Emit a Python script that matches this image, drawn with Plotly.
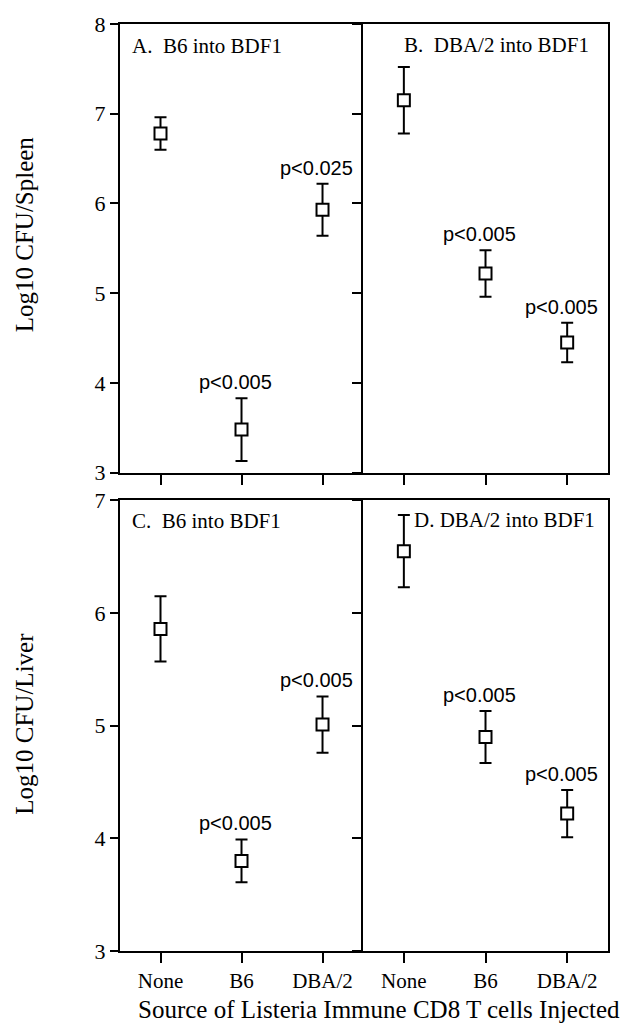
import plotly.graph_objects as go

categories = ["None", "B6", "DBA/2"]

spleen_b6 = [6.78, 3.48, 5.93]
spleen_b6_err = [0.18, 0.35, 0.29]
spleen_b6_p = ["", "p<0.005", "p<0.025"]

spleen_dba = [7.15, 5.22, 4.45]
spleen_dba_err = [0.37, 0.26, 0.22]
spleen_dba_p = ["", "p<0.005", "p<0.005"]

liver_b6 = [5.86, 3.80, 5.01]
liver_b6_err = [0.29, 0.19, 0.25]
liver_b6_p = ["", "p<0.005", "p<0.005"]

liver_dba = [6.55, 4.90, 4.22]
liver_dba_err = [0.32, 0.23, 0.21]
liver_dba_p = ["", "p<0.005", "p<0.005"]

panel_titles = ["A.  B6 into BDF1", "B.  DBA/2 into BDF1", "C.  B6 into BDF1", "D. DBA/2 into BDF1"]
spleen_ticks = [3, 4, 5, 6, 7, 8]
liver_ticks = [3, 4, 5, 6, 7]

SERIF = "Liberation Serif, Times New Roman, serif"
SANS = "Liberation Sans, Arial, sans-serif"

panels = [
    ("x", "y", spleen_b6, spleen_b6_err, spleen_b6_p),
    ("x2", "y2", spleen_dba, spleen_dba_err, spleen_dba_p),
    ("x3", "y3", liver_b6, liver_b6_err, liver_b6_p),
    ("x4", "y4", liver_dba, liver_dba_err, liver_dba_p),
]

fig = go.Figure()
annotations = []
for (xa, ya, vals, errs, plabels), title in zip(panels, panel_titles):
    fig.add_trace(go.Scatter(
        x=categories, y=vals, xaxis=xa, yaxis=ya, mode="markers",
        marker=dict(symbol="square", size=12, color="white",
                    line=dict(color="black", width=2)),
        error_y=dict(type="data", array=errs, visible=True, color="black",
                     thickness=2, width=6),
        showlegend=False, hoverinfo="skip",
    ))
    for c, v, e, p in zip(categories, vals, errs, plabels):
        if p:
            annotations.append(dict(
                x=c, y=v + e, xref=xa, yref=ya, text=p, showarrow=False,
                xanchor="center", yanchor="bottom", xshift=-6, yshift=3,
                font=dict(family=SANS, size=20, color="black"),
            ))

# panel titles
title_pos = {
    "x": (0.04, 0.951), "x2": (0.16, 0.953),
    "x3": (0.04, 0.954), "x4": (0.20, 0.956),
}
for (xa, ya, *_), title in zip(panels, panel_titles):
    px, py = title_pos[xa]
    annotations.append(dict(
        x=px, y=py, xref=f"{xa} domain", yref=f"{ya} domain", text=title,
        showarrow=False, xanchor="left", yanchor="middle",
        font=dict(family=SERIF, size=21, color="black"),
    ))

# shared x title
annotations.append(dict(
    x=0.53, y=-0.063, xref="paper", yref="paper",
    text="Source of Listeria Immune CD8 T cells Injected", showarrow=False,
    xanchor="center", yanchor="middle",
    font=dict(family=SERIF, size=25, color="black"),
))
# y titles
for txt, yy in (("Log10 CFU/Spleen", 0.773), ("Log10 CFU/Liver", 0.245)):
    annotations.append(dict(
        x=-0.195, y=yy, xref="paper", yref="paper", text=txt, showarrow=False,
        textangle=-90, xanchor="center", yanchor="middle",
        font=dict(family=SERIF, size=25, color="black"),
    ))

axis_common = dict(showline=True, linewidth=2, linecolor="black", mirror=True,
                   showgrid=False, zeroline=False, ticks="outside",
                   tickcolor="black", tickwidth=2)

xr = [-0.5, 2.5]
xL = [0, 0.498]
xR = [0.498, 1]
yT = [0.516, 1]
yB = [0, 0.486]

fig.update_layout(
    width=630, height=1035,
    margin=dict(l=120, r=22, t=17, b=84),
    paper_bgcolor="white", plot_bgcolor="white",
    annotations=annotations,
    xaxis=dict(axis_common, domain=xL, anchor="y", type="category", range=xr,
               ticklen=10, showticklabels=False),
    xaxis2=dict(axis_common, domain=xR, anchor="y2", type="category", range=xr,
                ticklen=10, showticklabels=False),
    xaxis3=dict(axis_common, domain=xL, anchor="y3", type="category", range=xr,
                ticklen=10, tickfont=dict(family=SERIF, size=21, color="black")),
    xaxis4=dict(axis_common, domain=xR, anchor="y4", type="category", range=xr,
                ticklen=10, tickfont=dict(family=SERIF, size=21, color="black")),
    yaxis=dict(axis_common, mirror=False, domain=yT, anchor="x", range=[3, 8],
               tickvals=spleen_ticks, ticklen=8,
               tickfont=dict(family=SERIF, size=22, color="black")),
    yaxis2=dict(axis_common, domain=yT, anchor="x2", range=[3, 8], tickvals=spleen_ticks,
                ticklen=9, showticklabels=False),
    yaxis3=dict(axis_common, mirror=False, domain=yB, anchor="x3", range=[3, 7],
                tickvals=liver_ticks, ticklen=8,
                tickfont=dict(family=SERIF, size=22, color="black")),
    yaxis4=dict(axis_common, domain=yB, anchor="x4", range=[3, 7], tickvals=liver_ticks,
                ticklen=9, showticklabels=False),
)

fig.write_html("out.html")
